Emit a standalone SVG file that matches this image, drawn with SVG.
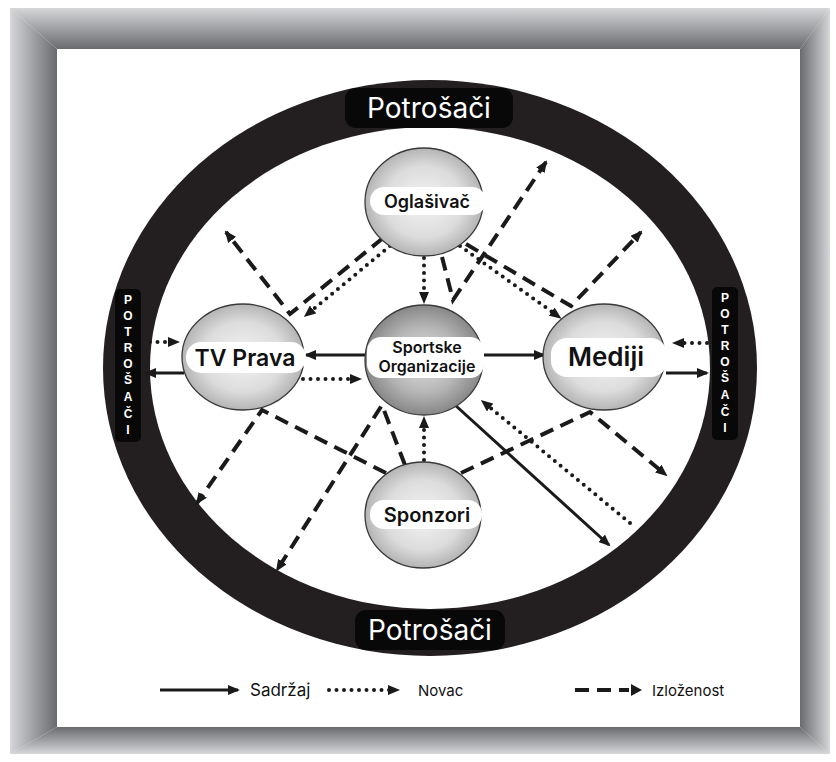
<svg xmlns="http://www.w3.org/2000/svg" width="836" height="762" viewBox="0 0 836 762">
<defs>
<linearGradient id="gTop" x1="0" y1="0" x2="0" y2="1"><stop offset="0" stop-color="#d6d7d9"/><stop offset="1" stop-color="#6a6b6f"/></linearGradient>
<linearGradient id="gBot" x1="0" y1="0" x2="0" y2="1"><stop offset="0" stop-color="#6a6b6f"/><stop offset="1" stop-color="#d6d7d9"/></linearGradient>
<linearGradient id="gLeft" x1="0" y1="0" x2="1" y2="0"><stop offset="0" stop-color="#d6d7d9"/><stop offset="1" stop-color="#6a6b6f"/></linearGradient>
<linearGradient id="gRight" x1="0" y1="0" x2="1" y2="0"><stop offset="0" stop-color="#6a6b6f"/><stop offset="1" stop-color="#d6d7d9"/></linearGradient>
<radialGradient id="gNode" cx="0.5" cy="0.5" r="0.55"><stop offset="0" stop-color="#f4f4f4"/><stop offset="0.6" stop-color="#dcdcdc"/><stop offset="1" stop-color="#a9a9a9"/></radialGradient>
<radialGradient id="gCore" cx="0.5" cy="0.5" r="0.55"><stop offset="0" stop-color="#e2e2e2"/><stop offset="0.55" stop-color="#b5b5b5"/><stop offset="1" stop-color="#7c7c7c"/></radialGradient>
<marker id="ah" viewBox="0 0 12 10" refX="10" refY="5" markerWidth="12" markerHeight="10" markerUnits="userSpaceOnUse" orient="auto"><path d="M0,0 L12,5 L0,10 z" fill="#1a1a1a"/></marker>
<marker id="ahd" viewBox="0 0 12 10" refX="4" refY="5" markerWidth="12" markerHeight="10" markerUnits="userSpaceOnUse" orient="auto"><path d="M0,0 L12,5 L0,10 z" fill="#1a1a1a"/></marker>
</defs>
<style>
.solid{fill:none;stroke:#1a1a1a;stroke-width:3}
.dot{fill:none;stroke:#1a1a1a;stroke-width:4;stroke-linecap:round;stroke-dasharray:0 7.5}
.dash{fill:none;stroke:#1a1a1a;stroke-width:4;stroke-dasharray:14 8}
.node{stroke:#3a3a3a;stroke-width:1.3}
.band{fill:#ffffff}
.nt{font-family:Inter,"Liberation Sans",Arial,sans-serif;font-weight:600;fill:#111;text-anchor:middle}
.lab{font-family:Inter,"Liberation Sans",Arial,sans-serif;fill:#ffffff;text-anchor:middle}
.vl{font-family:"Liberation Sans",Arial,sans-serif;font-weight:bold;font-size:12px;fill:#ffffff;text-anchor:middle}
.leg{font-family:Inter,"Liberation Sans",Arial,sans-serif;fill:#111}
</style>
<rect width="836" height="762" fill="#ffffff"/>
<g id="frame">
<polygon points="10,8 830,8 800,49 57,49" fill="url(#gTop)"/>
<polygon points="10,8 57,49 57,727 10,754" fill="url(#gLeft)"/>
<polygon points="830,8 830,754 800,727 800,49" fill="url(#gRight)"/>
<polygon points="10,754 57,727 800,727 830,754" fill="url(#gBot)"/>
<rect x="57" y="49" width="743" height="678" fill="#ffffff"/>
</g>
<g id="ring">
<ellipse cx="430" cy="368" rx="327" ry="288" fill="#231f20"/>
<ellipse cx="430" cy="368" rx="280" ry="241" fill="#ffffff"/>
</g>
<g id="label-top">
<rect x="345" y="88" width="168" height="40" rx="11" fill="#080808"/>
<text class="lab" x="429" y="118" font-size="28">Potrošači</text>
</g>
<g id="label-bottom">
<rect x="355" y="610" width="150" height="40" rx="11" fill="#080808"/>
<text class="lab" x="430" y="640" font-size="28">Potrošači</text>
</g>
<g id="label-left">
<rect x="115" y="289" width="26" height="153" rx="5" fill="#080808"/>
<text class="vl" x="128"><tspan x="128" y="304">P</tspan><tspan x="128" y="320">O</tspan><tspan x="128" y="336">T</tspan><tspan x="128" y="352">R</tspan><tspan x="128" y="368">O</tspan><tspan x="128" y="384">Š</tspan><tspan x="128" y="401">A</tspan><tspan x="128" y="418">Č</tspan><tspan x="128" y="434">I</tspan></text>
</g>
<g id="label-right">
<rect x="712" y="287" width="26" height="153" rx="5" fill="#080808"/>
<text class="vl" x="725"><tspan x="725" y="302">P</tspan><tspan x="725" y="318">O</tspan><tspan x="725" y="334">T</tspan><tspan x="725" y="350">R</tspan><tspan x="725" y="366">O</tspan><tspan x="725" y="382">Š</tspan><tspan x="725" y="399">A</tspan><tspan x="725" y="416">Č</tspan><tspan x="725" y="432">I</tspan></text>
</g>
<g id="connectors">
<path class="solid" d="M368,355 L306,355" marker-end="url(#ah)"/>
<path class="solid" d="M483,355 L544,355" marker-end="url(#ah)"/>
<path class="solid" d="M184,373 L146,373" marker-end="url(#ah)"/>
<path class="solid" d="M666,373 L707,373" marker-end="url(#ah)"/>
<path class="solid" d="M455,405 L609,545" marker-end="url(#ah)"/>
<path class="dot" d="M150,342 L172,342" marker-end="url(#ahd)"/>
<path class="dot" d="M707,343 L680,343" marker-end="url(#ahd)"/>
<path class="dot" d="M424,258 L424,296" marker-end="url(#ahd)"/>
<path class="dot" d="M390,246 L310,312" marker-end="url(#ahd)"/>
<path class="dot" d="M460,246 L555,314" marker-end="url(#ahd)"/>
<path class="dot" d="M303,379 L354,379" marker-end="url(#ahd)"/>
<path class="dot" d="M424,460 L424,424" marker-end="url(#ahd)"/>
<path class="dot" d="M630,523 L487,405" marker-end="url(#ahd)"/>
<path class="dash" d="M383,238 L290,314 L226,232" marker-end="url(#ah)"/>
<path class="dash" d="M442,257 L453,300 L546,162" marker-end="url(#ah)"/>
<path class="dash" d="M466,244 L571,306 L641,232" marker-end="url(#ah)"/>
<path class="dash" d="M386,473 L262,410 L197,503" marker-end="url(#ah)"/>
<path class="dash" d="M405,465 L382,405 L277,570" marker-end="url(#ah)"/>
<path class="dash" d="M461,473 L590,412 L666,475" marker-end="url(#ah)"/>
</g>
<g id="n-oglasivac">
<ellipse class="node" cx="424" cy="202" rx="59" ry="54" fill="url(#gNode)"/>
<rect class="band" x="370" y="187" width="116" height="28" rx="14"/>
<text class="nt" x="427" y="208" font-size="18">Oglašivač</text>
</g>
<g id="n-tvprava">
<ellipse class="node" cx="243" cy="357" rx="61" ry="53" fill="url(#gNode)"/>
<rect class="band" x="186" y="342" width="120" height="31" rx="15"/>
<text class="nt" x="245" y="366" font-size="23">TV Prava</text>
</g>
<g id="n-sportske">
<ellipse class="node" cx="424" cy="360" rx="59" ry="55" fill="url(#gCore)"/>
<rect class="band" x="367" y="337" width="117" height="41" rx="14"/>
<text class="nt" x="427" y="353" font-size="16">Sportske</text>
<text class="nt" x="427" y="372" font-size="16">Organizacije</text>
</g>
<g id="n-mediji">
<ellipse class="node" cx="604" cy="357" rx="61" ry="53" fill="url(#gNode)"/>
<rect class="band" x="551" y="338" width="116" height="39" rx="16"/>
<text class="nt" x="606" y="366" font-size="26">Mediji</text>
</g>
<g id="n-sponzori">
<ellipse class="node" cx="423" cy="515" rx="58" ry="53" fill="url(#gNode)"/>
<rect class="band" x="370" y="500" width="112" height="29" rx="14"/>
<text class="nt" x="427" y="522" font-size="20">Sponzori</text>
</g>
<g id="legend">
<path class="solid" d="M160,690 L238,690" stroke-width="4" marker-end="url(#ah)"/>
<text class="leg" x="250" y="696" font-size="17">Sadržaj</text>
<path class="dot" d="M329,690 L392,690" stroke-width="3.5" stroke-dasharray="0 9" marker-end="url(#ahd)"/>
<text class="leg" x="418" y="696" font-size="15">Novac</text>
<path class="dash" d="M575,690 L629,690" stroke-dasharray="17 13" stroke-width="4"/>
<path d="M631,684 L642,690 L631,696 z" fill="#1a1a1a"/>
<text class="leg" x="652" y="696" font-size="15">Izloženost</text>
</g>
</svg>
